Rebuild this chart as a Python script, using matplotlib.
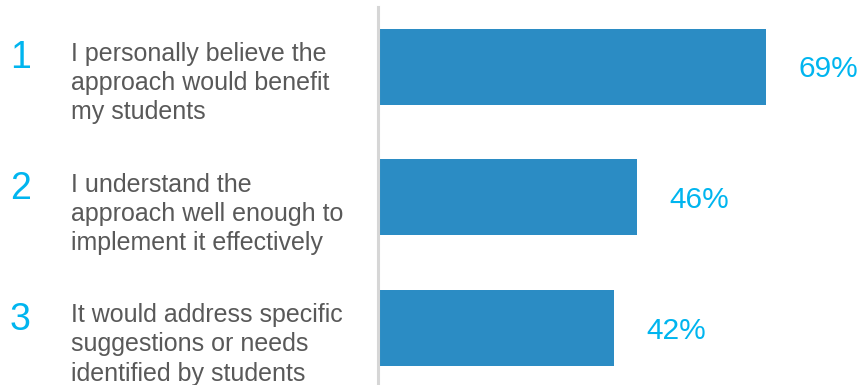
import matplotlib.pyplot as plt
import matplotlib.transforms as mtransforms

# data
numbers = ["1", "2", "3"]
statements = [
    "I personally believe the\napproach would benefit\nmy students",
    "I understand the\napproach well enough to\nimplement it effectively",
    "It would address specific\nsuggestions or needs\nidentified by students",
]
percents = [69, 46, 42]

bar_color = "#2B8CC4"
cyan = "#00B5EF"
grey_text = "#595959"

plt.rcParams['font.family'] = ['Liberation Sans', 'DejaVu Sans']

fig = plt.figure(figsize=(8.66, 3.85), dpi=100)
ax = fig.add_axes([378 / 866, 2 / 385, 488 / 866, 376 / 385])

ypos = list(range(len(percents)))
ax.barh(ypos, percents, height=0.58, color=bar_color, zorder=1)

ax.set_xlim(0, 86.8)
ax.set_ylim(2.42, -0.456)

for side in ["top", "right", "bottom"]:
    ax.spines[side].set_visible(False)
ax.spines["left"].set_color("#D6D6D6")
ax.spines["left"].set_linewidth(2.2)
ax.spines["left"].set_zorder(3)
ax.set_xticks([])
ax.set_yticks([])

# value labels
for y, v in zip(ypos, percents):
    ax.text(v + 5.8, y + 0.02, f"{v}%", ha="left", va="center",
            fontsize=21.5, color=cyan)

# left side labels
trans = mtransforms.blended_transform_factory(fig.transFigure, ax.transData)
for y, num, txt in zip(ypos, numbers, statements):
    ax.text(10 / 866, y - 0.2, num, transform=trans, ha="left",
            va="top", fontsize=27, color=cyan, clip_on=False)
    ax.text(71 / 866, y - 0.19, txt, transform=trans, ha="left",
            va="top", fontsize=18, color=grey_text,
            linespacing=1.27, clip_on=False)

fig.savefig("out.png", dpi=100)
